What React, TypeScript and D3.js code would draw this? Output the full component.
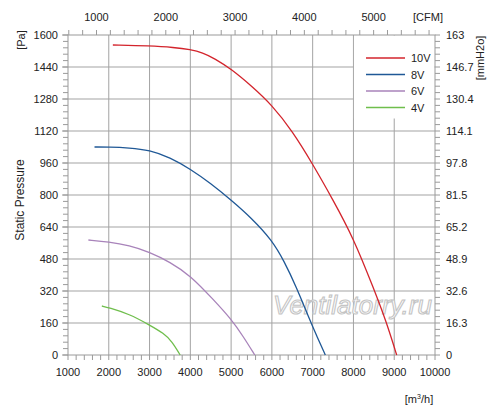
import React from 'react';
import * as d3 from 'd3';

// chart size and plot frame (px)
const W = 500;
const H = 418;
const PLOT = { left: 68, right: 435, top: 35, bottom: 355 };

// axis data
const flowTicks = [1000, 2000, 3000, 4000, 5000, 6000, 7000, 8000, 9000, 10000];
const pressureTicks = [0, 160, 320, 480, 640, 800, 960, 1120, 1280, 1440, 1600];
const mmH2oLabels = ['0', '16.3', '32.6', '48.9', '65.2', '81.5', '97.8', '114.1', '130.4', '146.7', '163'];
const cfmTicks = [1000, 2000, 3000, 4000, 5000];
const M3H_PER_CFM = 1.699;

// fan curves: [m3/h, Pa]
const curve10V: [number, number][] = [
  [2100, 1550], [3000, 1546], [3600, 1538], [4000, 1527], [4300, 1512], [4600, 1482],
  [5000, 1430], [5500, 1345], [6000, 1250], [6500, 1120], [7000, 955],
  [7500, 775], [8000, 585], [8500, 330], [8800, 170], [9060, 0],
];
const curve8V: [number, number][] = [
  [1650, 1040], [2000, 1040], [2500, 1036], [3000, 1025], [3500, 988], [4000, 930],
  [4500, 858], [5000, 775], [5500, 685], [6000, 575], [6300, 470], [6600, 340],
  [6900, 190], [7100, 95], [7310, 0],
];
const curve6V: [number, number][] = [
  [1500, 575], [2000, 566], [2500, 548], [3000, 515], [3500, 465], [4000, 398],
  [4560, 278], [5000, 180], [5300, 92], [5580, 0],
];
const curve4V: [number, number][] = [
  [1830, 245], [2000, 237], [2500, 205], [3000, 150], [3350, 108], [3550, 68], [3750, 0],
];

const seriesNames = ['10V', '8V', '6V', '4V'];
const seriesColors = ['#d3242c', '#1f5896', '#a883ba', '#6fbe4c'];
const seriesData = [curve10V, curve8V, curve6V, curve4V];

const FONT = '"Liberation Sans", Arial, sans-serif';
const GRID = '#a3a3a3';
const AXIS = '#9a9a9a';
const TEXT = '#222';

const App: React.FC = () => {
  const x = d3.scaleLinear().domain([1000, 10000]).range([PLOT.left, PLOT.right]);
  const y = d3.scaleLinear().domain([0, 1600]).range([PLOT.bottom, PLOT.top]);
  const xCfm = d3.scaleLinear()
    .domain([1000 / M3H_PER_CFM, 10000 / M3H_PER_CFM])
    .range([PLOT.left, PLOT.right]);

  const line = d3.line<[number, number]>()
    .x(d => x(d[0]))
    .y(d => y(d[1]))
    .curve(d3.curveBasis);

  // minor ticks
  const flowMinor = d3.range(1000, 10001, 200);
  const cfmMinor = d3.range(600, 10000 / M3H_PER_CFM, 200);
  const pressMinor = d3.range(0, 1601, 32);

  return (
    <div style={{ position: 'absolute', left: 0, top: 0 }}>
      <svg width={W} height={H} style={{ display: 'block', background: '#fff' }} fontFamily={FONT}>
        {/* grid */}
        {flowTicks.slice(1, -1).map(v => (
          <line key={'gx' + v} x1={x(v)} x2={x(v)} y1={PLOT.top} y2={PLOT.bottom} stroke={GRID} strokeWidth={1} />
        ))}
        {pressureTicks.slice(1, -1).map(v => (
          <line key={'gy' + v} x1={PLOT.left} x2={PLOT.right} y1={y(v)} y2={y(v)} stroke={GRID} strokeWidth={1} />
        ))}

        {/* legend background covers the grid */}
        <rect x={x(8000) + 0.5} y={PLOT.top + 0.5} width={PLOT.right - x(8000) - 1} height={83} fill="#fff" />

        {/* watermark */}
        <text x={273} y={314} fontSize={26} fontStyle="italic" fill="#fff" stroke="#c4c4c4" strokeWidth={1.1}>
          Ventilatorry.ru
        </text>

        {/* frame */}
        <rect x={PLOT.left} y={PLOT.top} width={PLOT.right - PLOT.left} height={PLOT.bottom - PLOT.top}
          fill="none" stroke={AXIS} strokeWidth={1} />

        {/* bottom axis */}
        {flowMinor.map(v => (
          <line key={'bt' + v} x1={x(v)} x2={x(v)} y1={PLOT.bottom} y2={PLOT.bottom + 5} stroke={AXIS} />
        ))}
        {flowTicks.map(v => (
          <text key={'bl' + v} x={x(v)} y={376} fontSize={11} textAnchor="middle" fill={TEXT}>{v}</text>
        ))}
        <text x={419} y={403} fontSize={11} textAnchor="middle" fill={TEXT}>
          [m<tspan dy={-4} fontSize={7}>3</tspan><tspan dy={4}>/h]</tspan>
        </text>

        {/* top axis (CFM) */}
        {cfmMinor.map(v => (
          <line key={'tt' + v} x1={xCfm(v)} x2={xCfm(v)} y1={PLOT.top} y2={PLOT.top - 5} stroke={AXIS} />
        ))}
        {cfmTicks.map(v => (
          <text key={'tl' + v} x={xCfm(v)} y={21} fontSize={11} textAnchor="middle" fill={TEXT}>{v}</text>
        ))}
        <text x={428} y={21} fontSize={11} textAnchor="middle" fill={TEXT}>[CFM]</text>

        {/* left axis (Pa) */}
        {pressMinor.map(v => (
          <line key={'lt' + v} x1={PLOT.left - 5} x2={PLOT.left} y1={y(v)} y2={y(v)} stroke={AXIS} />
        ))}
        {pressureTicks.map(v => (
          <line key={'lm' + v} x1={PLOT.left - 6} x2={PLOT.left} y1={y(v)} y2={y(v)} stroke={AXIS} />
        ))}
        {pressureTicks.map(v => (
          <text key={'ll' + v} x={58} y={y(v) + 4} fontSize={11} textAnchor="end" fill={TEXT}>{v}</text>
        ))}
        <text transform="translate(25,40) rotate(-90)" fontSize={11} textAnchor="middle" fill={TEXT}>[Pa]</text>
        <text transform="translate(24,200) rotate(-90)" fontSize={12} textAnchor="middle" fill={TEXT}>Static Pressure</text>

        {/* right axis (mmH2O) */}
        {pressMinor.map(v => (
          <line key={'rt' + v} x1={PLOT.right} x2={PLOT.right + 5} y1={y(v)} y2={y(v)} stroke={AXIS} />
        ))}
        {pressureTicks.map((v, i) => (
          <text key={'rl' + v} x={446} y={y(v) + 4} fontSize={11} textAnchor="start" fill={TEXT}>{mmH2oLabels[i]}</text>
        ))}
        <text transform="translate(484,58) rotate(-90)" fontSize={11} textAnchor="middle" fill={TEXT}>[mmH2o]</text>

        {/* curves */}
        {seriesData.map((d, i) => (
          <path key={seriesNames[i]} d={line(d) ?? ''} fill="none" stroke={seriesColors[i]} strokeWidth={1.3} />
        ))}

        {/* legend */}
        {seriesNames.map((name, i) => (
          <g key={'lg' + name} transform={`translate(366, ${58 + i * 16.5})`}>
            <line x1={0} x2={39} y1={0} y2={0} stroke={seriesColors[i]} strokeWidth={1.5} />
            <text x={45} y={4} fontSize={11} fill={TEXT}>{name}</text>
          </g>
        ))}
      </svg>
    </div>
  );
};

export default App;
